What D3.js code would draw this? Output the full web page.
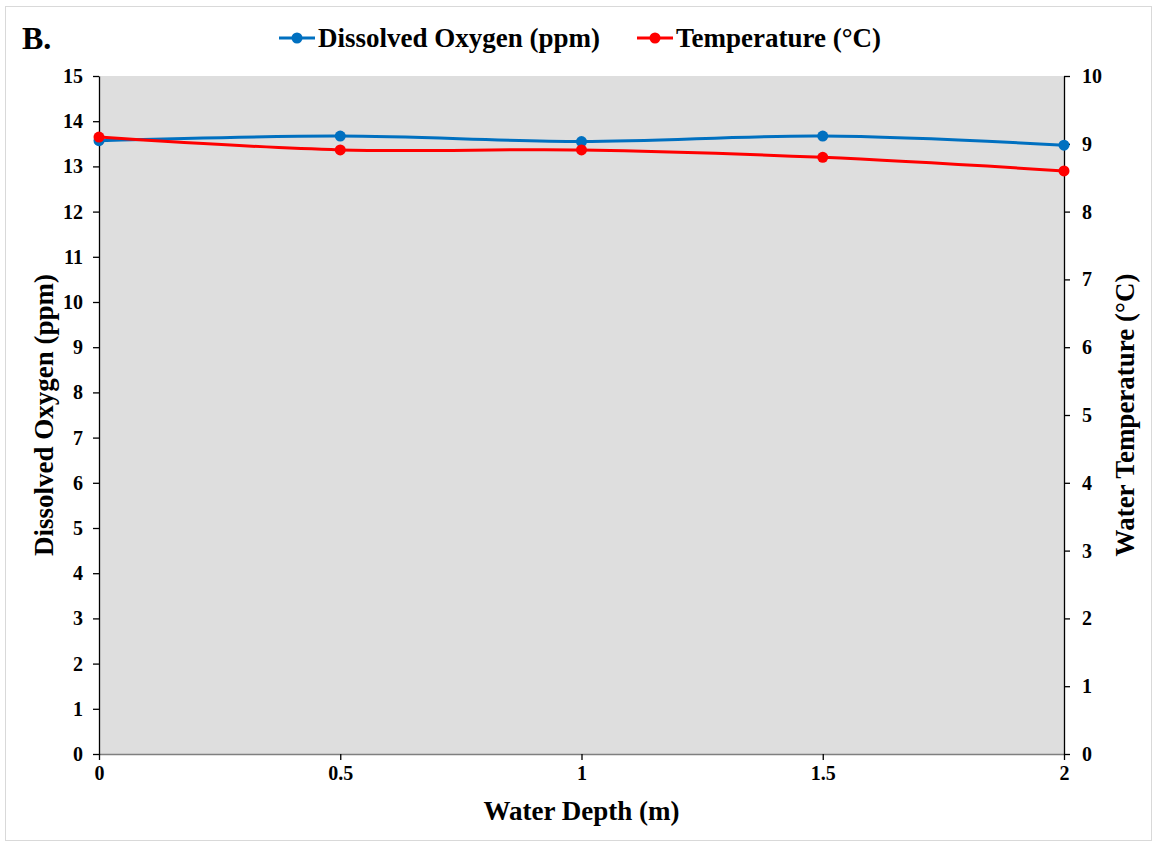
<!DOCTYPE html>
<html>
<head>
<meta charset="utf-8">
<script src="https://cdn.jsdelivr.net/npm/d3@7"></script>
<style>
  body { margin: 0; background: #fff; }
  text { font-family: "Liberation Serif", "Times New Roman", serif; font-weight: bold; fill: #000; }
</style>
</head>
<body>
<svg width="1156" height="845"></svg>
<script>
// data
const depths = [0, 0.5, 1, 1.5, 2]
const oxygen = [13.57, 13.67, 13.55, 13.67, 13.47]
const temperature = [9.1, 8.91, 8.91, 8.8, 8.6]
const xTicks = [0, 0.5, 1, 1.5, 2]
const leftTicks = d3.range(0, 16)
const rightTicks = d3.range(0, 11)

const svg = d3.select('svg')
const plotL = 99, plotR = 1064, plotT = 76, plotB = 754

const xs = d3.scaleLinear().domain([0, 2]).range([plotL, plotR])
const yl = d3.scaleLinear().domain([0, 15]).range([plotB, plotT])
const yr = d3.scaleLinear().domain([0, 10]).range([plotB, plotT])

// outer frame
svg.append('rect').attr('x', 5.5).attr('y', 6.5).attr('width', 1146).attr('height', 834)
  .attr('fill', 'none').attr('stroke', '#d9d9d9').attr('stroke-width', 1)

// plot background
svg.append('rect').attr('x', plotL).attr('y', plotT).attr('width', plotR - plotL).attr('height', plotB - plotT)
  .attr('fill', '#dedede')

function styleAxis(g, color) {
  g.select('.domain').attr('stroke', color).attr('stroke-width', 1.3)
  g.selectAll('.tick line').attr('stroke', color).attr('stroke-width', 1.3)
  g.selectAll('.tick text').attr('font-size', 20).style('font-family', '"Liberation Serif", serif').style('font-weight', 'bold').attr('fill', '#000')
}

const xAxis = svg.append('g').attr('transform', `translate(0,${plotB})`)
  .call(d3.axisBottom(xs).tickValues(xTicks).tickSize(6).tickSizeOuter(0).tickPadding(6).tickFormat(d3.format('')))
styleAxis(xAxis, '#7f7f7f')
xAxis.selectAll('.tick line').attr('stroke', '#000')

const yAxisL = svg.append('g').attr('transform', `translate(${plotL},0)`)
  .call(d3.axisLeft(yl).tickValues(leftTicks).tickSize(6).tickSizeOuter(0).tickPadding(10))
styleAxis(yAxisL, '#000')

const yAxisR = svg.append('g').attr('transform', `translate(${plotR},0)`)
  .call(d3.axisRight(yr).tickValues(rightTicks).tickSize(6).tickSizeOuter(0).tickPadding(12))
styleAxis(yAxisR, '#000')

const series = [
  {name: 'Dissolved Oxygen (ppm)', values: oxygen, y: yl, color: '#0070c0'},
  {name: 'Temperature (°C)', values: temperature, y: yr, color: '#ff0000'}
]

series.forEach(function(s) {
  const line = d3.line().curve(d3.curveCatmullRom.alpha(0))
    .x(function(d, i) { return xs(depths[i]) })
    .y(function(d) { return s.y(d) })
  svg.append('path').datum(s.values).attr('d', line)
    .attr('fill', 'none').attr('stroke', s.color).attr('stroke-width', 3)
  svg.append('g').selectAll('circle').data(s.values).enter().append('circle')
    .attr('cx', function(d, i) { return xs(depths[i]) })
    .attr('cy', function(d) { return s.y(d) })
    .attr('r', 5.5)
    .attr('fill', s.color)
})

// legend
const legendX = [279, 637]
series.forEach(function(s, i) {
  const g = svg.append('g').attr('transform', `translate(${legendX[i]},38)`)
  g.append('line').attr('x1', 0).attr('x2', 36).attr('stroke', s.color).attr('stroke-width', 3)
  g.append('circle').attr('cx', 18).attr('r', 5.5).attr('fill', s.color)
  g.append('text').attr('x', 39).attr('y', 9).attr('font-size', 27).text(s.name)
})

// labels
svg.append('text').attr('x', 22).attr('y', 49).attr('font-size', 32).text('B.')
svg.append('text').attr('x', (plotL + plotR) / 2).attr('y', 820).attr('text-anchor', 'middle')
  .attr('font-size', 27).text('Water Depth (m)')
svg.append('text').attr('transform', `translate(53,${(plotT + plotB) / 2}) rotate(-90)`)
  .attr('text-anchor', 'middle').attr('font-size', 27).text('Dissolved Oxygen (ppm)')
svg.append('text').attr('transform', `translate(1134,${(plotT + plotB) / 2}) rotate(-90)`)
  .attr('text-anchor', 'middle').attr('font-size', 27).text('Water Temperature (°C)')
</script>
</body>
</html>
